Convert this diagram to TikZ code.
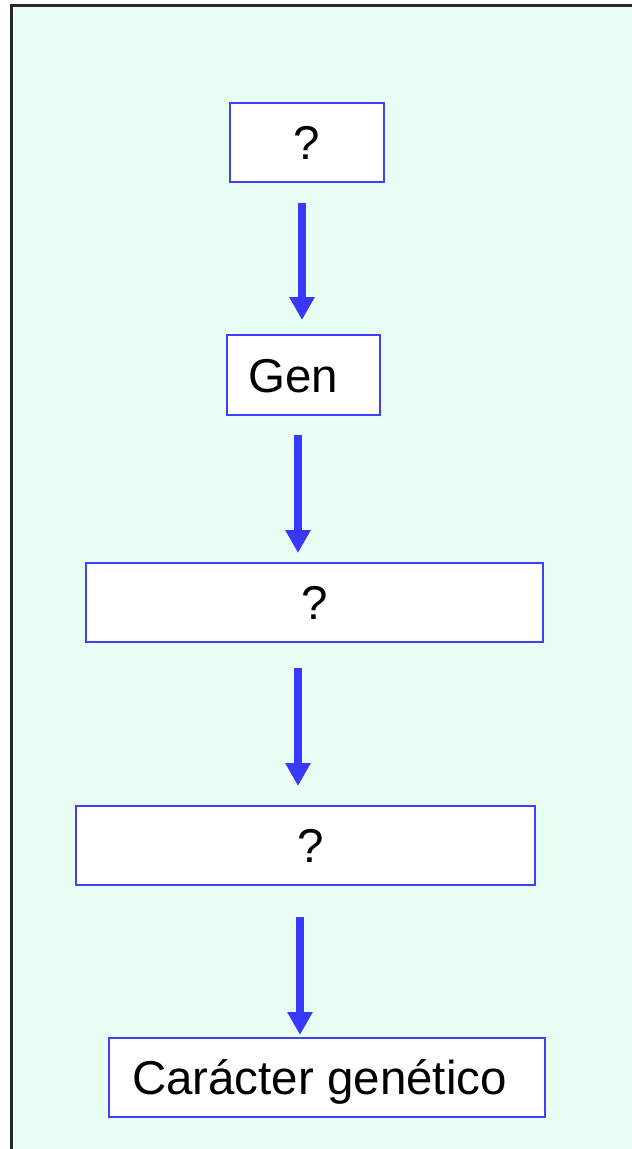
\documentclass[tikz,border=0pt]{standalone}
\usepackage{fontspec}
\setmainfont{Liberation Sans}
\usetikzlibrary{arrows.meta,calc}
\definecolor{panel}{RGB}{234,255,243}
\definecolor{boxblue}{RGB}{64,64,255}
\definecolor{arrowblue}{RGB}{56,56,255}
\definecolor{frame}{RGB}{40,40,40}
\tikzset{
  stage/.style={draw=boxblue, line width=2pt, fill=white, rectangle,
    inner sep=0pt, outer sep=0pt},
  caption/.style={inner sep=0pt, text height=34pt, text depth=0pt,
    font=\fontsize{47.5}{57}\selectfont},
  flow/.style={draw=arrowblue, line width=8pt,
    -{Triangle[width=24pt,length=23pt]}},
}
\begin{document}
\begin{tikzpicture}[x=1pt,y=-1pt]
  \useasboundingbox (0,0) rectangle (632,1149);
  % panel and its frame (only left and top edges fall inside the page)
  \fill[panel] (11,5) rectangle (640,1160);
  \draw[frame, line width=3pt] (11,1160) -- (11,5) -- (640,5);

  % stages
  \node[stage, minimum width=154pt, minimum height=79pt] (b1) at (307,142.5) {};
  \node[stage, minimum width=153pt, minimum height=80pt] (b2) at (303.5,375) {};
  \node[stage, minimum width=457pt, minimum height=79pt] (b3) at (314.5,602.5) {};
  \node[stage, minimum width=459pt, minimum height=79pt] (b4) at (305.5,845.5) {};
  \node[stage, minimum width=436pt, minimum height=79pt] (b5) at (327,1077.5) {};

  % texts
  \node[caption] (t1) at ($(b1.center)+(0,0)$) {?};
  \node[caption] (t2) at ($(b2.center)+(-10.5,0)$) {Gen};
  \node[caption] (t3) at ($(b3.center)+(0.5,0)$) {?};
  \node[caption] (t4) at ($(b4.center)+(5,0)$) {?};
  \node[caption] (t5) at ($(b5.center)+(-7.5,0)$) {Carácter genético};

  % arrows between stages
  \draw[flow] ($(b1.south)+(-5,21)$) -- ($(b2.north)+(-1.5,-15)$);
  \draw[flow] ($(b2.south)+(-5.5,20)$) -- ($(b3.north)+(-16.5,-10)$);
  \draw[flow] ($(b3.south)+(-16.5,26)$) -- ($(b4.north)+(-7.5,-20)$);
  \draw[flow] ($(b4.south)+(-5.5,32)$) -- ($(b5.north)+(-27,-3)$);
\end{tikzpicture}
\end{document}
